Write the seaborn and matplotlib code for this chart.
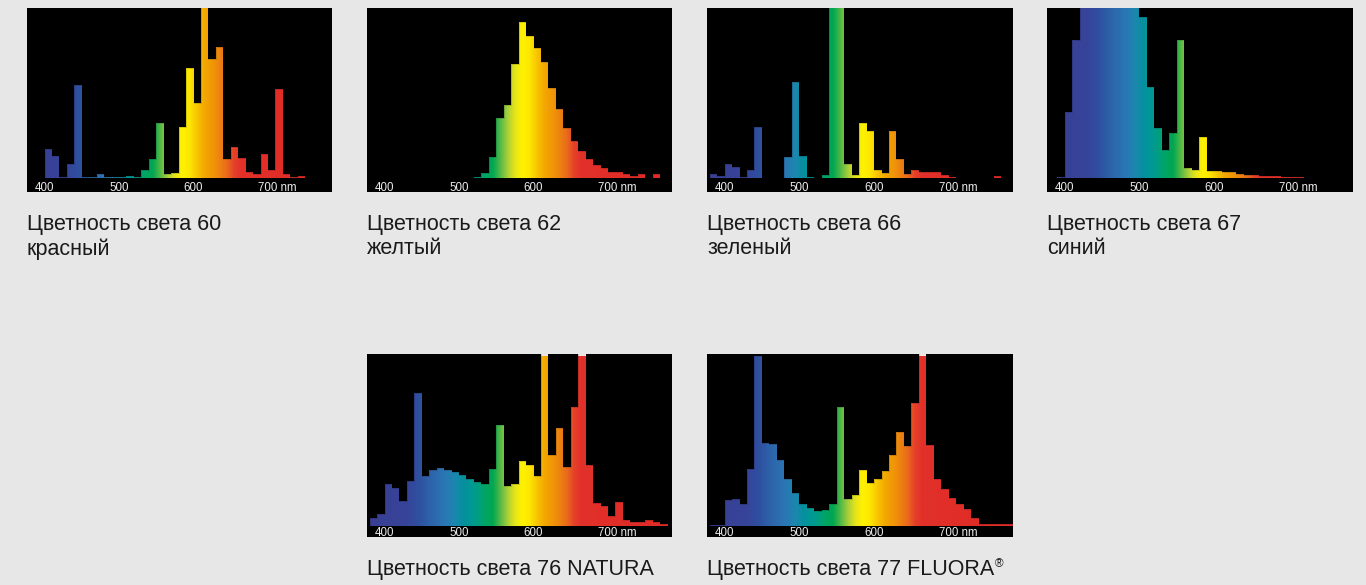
import numpy as np
import pandas as pd
import matplotlib
matplotlib.use("Agg")
import matplotlib.pyplot as plt
import seaborn as sns
from matplotlib.colors import LinearSegmentedColormap

# ---------------- data (relative spectral power, 10 nm bins) ----------------
BIN_NM = 10

start_60 = 400
vals_60 = [17.1, 13.3, 0.6, 8.4, 54.9, 0.6, 0.6, 2.4, 0.6, 0.8, 0.8, 1.4, 0.8,
           5.1, 11.4, 32.4, 2.5, 3.1, 30.4, 64.7, 44.1, 115, 70, 77, 11.4,
           18.6, 12.2, 3.9, 2.5, 14.3, 4.9, 52.4, 2.4, 1.0, 1.4]

start_62 = 520
vals_62 = [0.6, 3.3, 12.6, 35.5, 42.8, 67, 91.5, 83.8, 76.7, 68.4, 53.3, 40.4,
           29.6, 21.7, 15.8, 11.2, 7.9, 5.9, 3.9, 3.6, 2.8, 1.4, 2.4, 0, 2.8]

start_66 = 380
vals_66 = [2.5, 1.2, 8.4, 6.9, 0.6, 4.7, 30.2, 0, 0, 0, 12.7, 56.3, 13.1, 0.8,
           0, 2.0, 120, 120, 8.4, 2.0, 32.4, 27.5, 4.7, 2.9, 27.5, 11.4, 2.4,
           4.9, 3.9, 3.9, 3.9, 2.0, 0.6, 0, 0, 0, 0, 0, 1.2]

start_67 = 390
vals_67 = [1.0, 38.8, 81.4, 115, 125, 130, 130, 128, 124, 118, 110, 94.7, 53.5,
           29.4, 16.7, 26.7, 81, 6.1, 5.1, 24.1, 4.5, 4.1, 3.9, 3.5, 2.5, 2.2,
           2.0, 1.6, 1.4, 1.2, 1.0, 1.0, 0.8]

start_76 = 380
vals_76 = [4.3, 6.6, 24.3, 22.1, 14.4, 26, 77.1, 29.1, 32.4, 33.4, 32.4, 31.5,
           29.5, 27.2, 25.2, 24.3, 33, 58.4, 23.3, 24.1, 37.7, 35.1,
           28.9, 120, 41.2, 56.7, 34.4, 69.3, 120, 35.3, 13.4, 11.5,
           5.6, 13.6, 3.3, 2.1, 2.3, 3.1, 2.1, 1.2]

start_77 = 380
vals_77 = [0.6, 0.6, 14.7, 15.7, 12.9, 33.3, 98.8, 48, 47.3, 38, 27.3, 19,
           12.7, 10.2, 8.8, 9.2, 12.5, 69, 15.7, 18, 32.7, 24.9,
           26.9, 31.8, 41, 54.3, 46.5, 71.6, 120, 47, 27.3, 21.6,
           16.1, 12.7, 10, 4.3, 1.0, 1.0, 1.0, 1.0, 1.0]

tick_nm = [400, 500, 600, 700]
tick_text = ["400", "500", "600", "700 nm"]

captions_line1 = ["Цветность света 60", "Цветность света 62", "Цветность света 66",
                  "Цветность света 67", "Цветность света 76 NATURA",
                  "Цветность света 77 FLUORA"]
captions_line2 = ["красный", "желтый", "зеленый", "синий", "", ""]

# spectrum colour stops (nm, colour)
spec_nm = [370, 430, 445, 460, 480, 495, 505, 520, 535, 545, 555, 565, 575,
           585, 595, 605, 615, 630, 645, 655, 665, 800]
spec_col = ["#3a3f93", "#36449a", "#2f4f9f", "#2d62a9", "#2b76b5", "#1a88ad",
            "#05909f", "#009b8f", "#00a565", "#00a651", "#50b848", "#a6ce39",
            "#e6e41a", "#fff200", "#fde600", "#f8c400", "#f3a800", "#ef8f0a",
            "#ea6b1b", "#e5402a", "#e2302a", "#e02a26"]

# ---------------- layout ----------------
plt.rcParams['font.family'] = ['Liberation Sans', 'DejaVu Sans']
W, H = 1366, 585
BG = "#e7e7e7"
fig = plt.figure(figsize=(W / 100, H / 100), dpi=100, facecolor=BG)

XL = (376.5, 785.9)
norm = plt.Normalize(XL[0], XL[1])
cmap = LinearSegmentedColormap.from_list(
    "spec", [(float(np.clip(norm(n), 0, 1)), c) for n, c in zip(spec_nm, spec_col)])

panels = [
    (start_60, vals_60, 27, 8, 305, 184, 0),
    (start_62, vals_62, 367, 8, 305, 184, 0),
    (start_66, vals_66, 707, 8, 306, 184, 0),
    (start_67, vals_67, 1047, 8, 306, 184, 0),
    (start_76, vals_76, 367, 354, 305, 183, 1),
    (start_77, vals_77, 707, 354, 306, 183, 1),
]
row_ylim = [(-8.06, 100), (-6.6, 100)]
row_label_y = [-7.3, -6.3]
row_cap_y = [(230, 254.5), (575, None)]
CAP_FS = 15.5

for i, (start, vals, px, py, pw, ph, row) in enumerate(panels):
    ax = fig.add_axes([px / W, 1 - (py + ph) / H, pw / W, ph / H])
    ax.set_facecolor("black")
    lo = start
    hi = start + BIN_NM * len(vals)
    df = pd.DataFrame({"nm": lo + BIN_NM * np.arange(len(vals)) + BIN_NM / 2,
                       "level": vals})
    sns.histplot(data=df, x="nm", weights="level", binwidth=BIN_NM,
                 binrange=(lo, hi), element="step", fill=True, color="black",
                 ax=ax, legend=False)
    poly = ax.collections[-1]
    path = poly.get_paths()[0]
    poly.set_facecolor("none")
    poly.set_edgecolor((0, 0, 0, 0.22))
    poly.set_linewidth(0.5)
    poly.set_zorder(3)

    xs = np.linspace(XL[0], XL[1], 1500)
    img = np.tile(xs, (2, 1))
    im = ax.imshow(img, extent=(XL[0], XL[1], row_ylim[row][0], 150),
                   origin="lower", aspect="auto", cmap=cmap, norm=norm,
                   interpolation="bilinear", zorder=1)
    im.set_clip_path(path, ax.transData)
    if row == 1:
        cap = ax.axhspan(99.0, 101, color="#f3e4e4", zorder=2, lw=0)
        cap.set_clip_path(path, ax.transData)

    ax.set_xlim(*XL)
    ax.set_ylim(*row_ylim[row])
    ax.set_xticks([])
    ax.set_yticks([])
    ax.set_xlabel("")
    ax.set_ylabel("")
    for s in ax.spines.values():
        s.set_visible(False)

    for t, lab in zip(tick_nm, tick_text):
        if " " in lab:
            ax.annotate(lab, xy=(t, row_label_y[row]), xytext=(-6.9, 0),
                        textcoords="offset points", ha="left", va="baseline",
                        fontsize=8.3, color="#ececec", zorder=5)
        else:
            ax.text(t, row_label_y[row], lab, ha="center", va="baseline",
                    fontsize=8.3, color="#ececec", zorder=5)

    y1, y2 = row_cap_y[row]
    t1 = fig.text(px / W, 1 - y1 / H, captions_line1[i], ha="left", va="baseline",
                  fontsize=CAP_FS, color="#1a1a1a")
    if captions_line2[i]:
        fig.text(px / W, 1 - y2 / H, captions_line2[i], ha="left", va="baseline",
                 fontsize=CAP_FS, color="#1a1a1a")
    if captions_line1[i].endswith("FLUORA"):
        r = fig.canvas.get_renderer()
        bb = t1.get_window_extent(renderer=r)
        fig.text((bb.x1 + 0.5) / W, 1 - (y1 - 7.5) / H, "®", ha="left",
                 va="baseline", fontsize=8.5, color="#1a1a1a")

fig.savefig("out.png", dpi=100, facecolor=BG)
